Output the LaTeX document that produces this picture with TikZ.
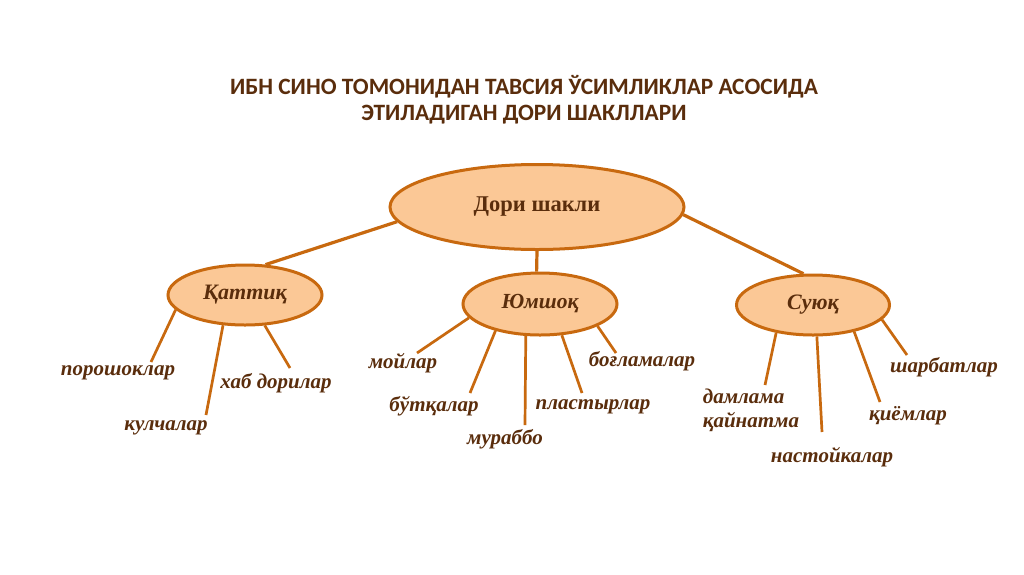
\documentclass[tikz,border=0pt]{standalone}
\usepackage{fontspec}
\setmainfont{Liberation Serif}
\newfontfamily\titlefont{Carlito}
\definecolor{txt}{HTML}{5A2D0C}
\definecolor{ln}{HTML}{C8690F}
\definecolor{fl}{HTML}{FBC896}
\usetikzlibrary{shapes.geometric}
\tikzset{
  oval/.style={ellipse, draw=ln, fill=fl, line width=3pt, inner sep=0pt, text=txt},
  conn/.style={draw=ln, line width=3.2pt},
  br/.style={draw=ln, line width=2.7pt},
  lbl/.style={text=txt, font=\fontsize{21}{24}\selectfont\bfseries\itshape, inner sep=0pt, align=center},
}
\begin{document}
\begin{tikzpicture}[x=1pt,y=-1pt]
\useasboundingbox[fill=white] (0,0) rectangle (1024,574);
\node[text=txt, font=\titlefont\fontsize{23.4}{26}\selectfont\bfseries, align=center] (title) at (524,100)
  {ИБН СИНО ТОМОНИДАН ТАВСИЯ ЎСИМЛИКЛАР АСОСИДА\\ЭТИЛАДИГАН ДОРИ ШАКЛЛАРИ};
\node[oval, minimum width=294pt, minimum height=85pt, font=\fontsize{22.5}{26}\selectfont\bfseries] (main) at (537,207) {Дори шакли};
\node[oval, minimum width=154pt, minimum height=60pt, font=\fontsize{22}{25}\selectfont\bfseries\itshape] (kat) at (245,295) {Қаттиқ};
\node[oval, minimum width=154pt, minimum height=62pt, font=\fontsize{21.5}{25}\selectfont\bfseries\itshape] (yum) at (540,304) {Юмшоқ};
\node[oval, minimum width=153pt, minimum height=60pt, font=\fontsize{22}{25}\selectfont\bfseries\itshape] (suy) at (813,305) {Суюқ};
\draw[conn] (main.186) -- (kat.56);
\draw[conn] (main.south) -- (yum.96);
\draw[conn] (main.357) -- (suy.107);
% Қаттиқ
\coordinate (k1) at (151,362);
\coordinate (k2) at (206,415);
\coordinate (k3) at (290,368);
\draw[br] (kat.192) -- (k1);
\draw[br] (kat.234) -- (k2);
\draw[br] (kat.303) -- (k3);
\node[lbl] (lk1) at (118,373) {порошоклар};
\node[lbl] (lk2) at (166,428) {кулчалар};
\node[lbl] (lk3) at (276,383) {хаб дорилар};
% Юмшоқ
\coordinate (y1) at (417,353);
\coordinate (y2) at (470,393);
\coordinate (y3) at (525,425);
\coordinate (y4) at (582,393);
\coordinate (y5) at (616,353);
\draw[br] (yum.191) -- (y1);
\draw[br] (yum.211) -- (y2);
\draw[br] (yum.246) -- (y3);
\draw[br] (yum.305) -- (y4);
\draw[br] (yum.339) -- (y5);
\node[lbl] (ly1) at (403,363) {мойлар};
\node[lbl] (ly2) at (434,406) {бўтқалар};
\node[lbl] (ly3) at (505,439) {мураббо};
\node[lbl] (ly4) at (593,407) {пластырлар};
\node[lbl] (ly5) at (642,361) {боғламалар};
% Суюқ
\coordinate (s1) at (765,385);
\coordinate (s2) at (822,432);
\coordinate (s3) at (880,402);
\coordinate (s4) at (907,355);
\draw[br] (suy.217) -- (s1);
\draw[br] (suy.277) -- (s2);
\draw[br] (suy.327) -- (s3);
\draw[br] (suy.348) -- (s4);
\node[lbl, align=left] (ls1) at (751,410) {дамлама\\қайнатма};
\node[lbl] (ls2) at (832,457) {настойкалар};
\node[lbl] (ls3) at (908,416) {қиёмлар};
\node[lbl] (ls4) at (944,367) {шарбатлар};
\end{tikzpicture}
\end{document}
